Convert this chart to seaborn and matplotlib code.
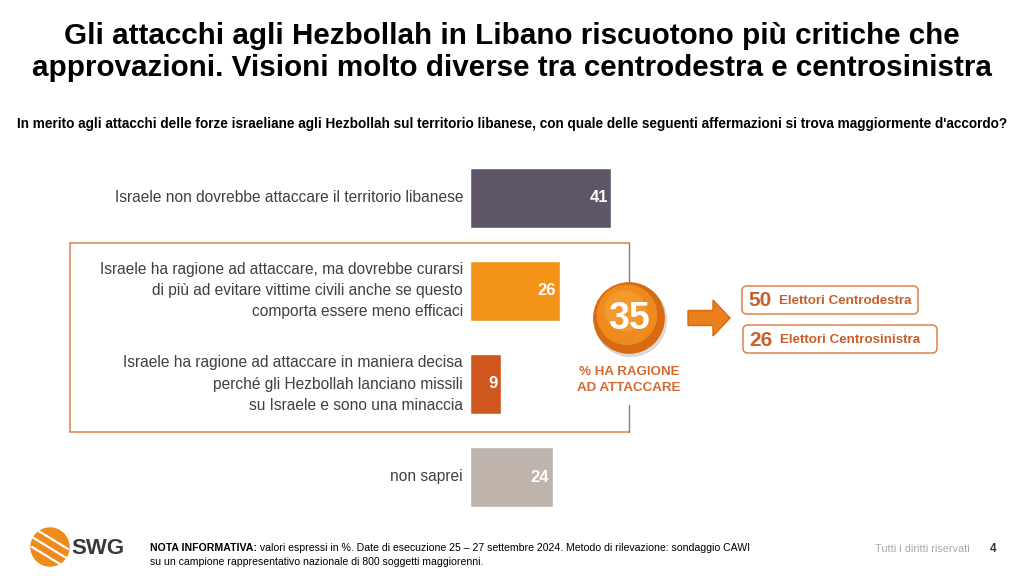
import matplotlib
matplotlib.use("Agg")
import matplotlib.pyplot as plt
import seaborn as sns
import pandas as pd
from matplotlib.patches import FancyBboxPatch, Circle, FancyArrow
from matplotlib.lines import Line2D

# ---- data ----
categories = [
    "Israele non dovrebbe attaccare il territorio libanese",
    "Israele ha ragione ad attaccare, ma dovrebbe curarsi\ndi più ad evitare vittime civili anche se questo\ncomporta essere meno efficaci",
    "Israele ha ragione ad attaccare in maniera decisa\nperché gli Hezbollah lanciano missili\nsu Israele e sono una minaccia",
    "non saprei",
]
values = [41, 26, 9, 24]
bar_colors = ["#5E5568", "#F39318", "#CF561C", "#BFB4AC"]
highlight_total = 35
highlight_label = "% HA RAGIONE\nAD ATTACCARE"
group_labels = ["Elettori Centrodestra", "Elettori Centrosinistra"]
group_values = [50, 26]

title = ("Gli attacchi agli Hezbollah in Libano riscuotono più critiche che\n"
         "approvazioni. Visioni molto diverse tra centrodestra e centrosinistra")
subtitle = ("In merito agli attacchi delle forze israeliane agli Hezbollah sul territorio libanese, "
            "con quale delle seguenti affermazioni si trova maggiormente d'accordo?")
note_bold = "NOTA INFORMATIVA:"
note_rest = (" valori espressi in %. Date di esecuzione 25 – 27 settembre 2024. Metodo di rilevazione: sondaggio CAWI")
note_line2 = "su un campione rappresentativo nazionale di 800 soggetti maggiorenni."

sns.set_theme(style="white")
plt.rcParams['font.family'] = ['Liberation Sans', 'DejaVu Sans']

W, H = 1024, 576
fig = plt.figure(figsize=(W / 100, H / 100), dpi=100)
fig.patch.set_facecolor("white")


def fx(x):
    return x / W


def fy(y):
    return 1 - y / H


# ---- main bar axes ----
ax_left, ax_right = 470, 670
ax_top, ax_bot = 151.5, 523.5
ax = fig.add_axes([fx(ax_left), fy(ax_bot), (ax_right - ax_left) / W, (ax_bot - ax_top) / H])
df = pd.DataFrame({"cat": categories, "val": values})
sns.barplot(data=df, x="val", y="cat", hue="cat", palette=bar_colors, legend=False,
            orient="h", width=0.645, ax=ax, saturation=1)
ax.set_xlim(0, (ax_right - ax_left) / 3.45)
ax.set_ylim(3.5, -0.5)
ax.axis("off")

for i, (c, v) in enumerate(zip(categories, values)):
    ax.text(v - 1.0, i, str(v), ha="right", va="center", color="white",
            fontsize=12, fontweight="bold")
    ax.text(-2.0, i, c, ha="right", va="center", color="#404040", fontsize=11.2,
            linespacing=1.5, clip_on=False)

# ---- orange grouping box ----
box_c = "#E08A5A"
fig.add_artist(Line2D([fx(70), fx(629)], [fy(243), fy(243)], color=box_c, lw=1.2))
fig.add_artist(Line2D([fx(70), fx(629)], [fy(432), fy(432)], color=box_c, lw=1.2))
fig.add_artist(Line2D([fx(70), fx(70)], [fy(243), fy(432)], color=box_c, lw=1.2))
fig.add_artist(Line2D([fx(629), fx(629)], [fy(243), fy(283)], color="#7F7F7F", lw=1.0))
fig.add_artist(Line2D([fx(629), fx(629)], [fy(405), fy(432)], color="#7F7F7F", lw=1.0))

# ---- circle with total ----
circ_ax = fig.add_axes([fx(589), fy(358), 80 / W, 80 / H])
circ_ax.set_xlim(-1, 1)
circ_ax.set_ylim(-1, 1)
circ_ax.set_aspect("equal")
circ_ax.axis("off")
circ_ax.add_patch(Circle((0.04, -0.06), 0.9, color="#C8C8C8", alpha=0.6))
circ_ax.add_patch(Circle((0, 0), 0.88, color="#D86A12"))
circ_ax.add_patch(Circle((-0.05, 0.08), 0.74, color="#EE8A1E"))
circ_ax.add_patch(Circle((-0.1, 0.18), 0.5, color="#F39A2E"))
circ_ax.text(0, -0.02, str(highlight_total), ha="center", va="center", color="white",
             fontsize=27, fontweight="bold")
fig.text(fx(629), fy(380), highlight_label, ha="center", va="center", color="#D4692F",
         fontsize=9.6, fontweight="bold", linespacing=1.45)

# ---- arrow ----
arr_ax = fig.add_axes([0, 0, 1, 1], facecolor="none")
arr_ax.set_xlim(0, W)
arr_ax.set_ylim(H, 0)
arr_ax.axis("off")
arr_ax.add_patch(FancyArrow(688, 318, 42, 0, width=15, head_width=36, head_length=17,
                            length_includes_head=True, color="#EA7F1C", ec="#D86A12"))

# ---- group boxes ----
boxes = [(742, 286, 176, 28), (743, 325, 194, 28)]
for (bx, by, bw, bh), lab, val in zip(boxes, group_labels, group_values):
    arr_ax.add_patch(FancyBboxPatch((bx, by), bw, bh, boxstyle="round,pad=0,rounding_size=5",
                                    fc="white", ec="#E08A5A", lw=1.2))
    arr_ax.text(bx + 6, by + bh / 2 + 1, str(val), ha="left", va="center", color="#C6602A",
                fontsize=15, fontweight="bold")
    arr_ax.text(bx + 37, by + bh / 2 + 1, lab, ha="left", va="center", color="#C6602A",
                fontsize=9.6, fontweight="bold")

# ---- titles ----
fig.text(0.5, fy(52), title, ha="center", va="center", fontsize=21.3, fontweight="bold",
         color="black", linespacing=1.2)
fig.text(0.5, fy(124), subtitle, ha="center", va="center", fontsize=9.8,
         fontweight="bold", color="black")

# ---- footer ----
logo_ax = fig.add_axes([fx(30), fy(567), 40 / W, 40 / H])
logo_ax.set_xlim(-1, 1)
logo_ax.set_ylim(-1, 1)
logo_ax.set_aspect("equal")
logo_ax.axis("off")
logo_ax.add_patch(Circle((0, 0), 0.95, color="#F08A1C"))
for off in (-0.55, -0.05, 0.45):
    logo_ax.plot([-0.9, 0.9], [off + 0.55, off - 0.55], color="white", lw=1.6)
fig.text(fx(71), fy(548), "SWG", ha="left", va="center", fontsize=16, fontweight="bold",
         color="#3A3A3A")

t = fig.text(fx(150), fy(548), note_bold, ha="left", va="center", fontsize=7.6,
             fontweight="bold", color="black")
fig.canvas.draw()
bb = t.get_window_extent()
fig.text(bb.x1 / W, fy(548), note_rest, ha="left", va="center", fontsize=7.6, color="black")
fig.text(fx(150), fy(562), note_line2, ha="left", va="center", fontsize=7.6, color="black")
fig.text(fx(970), fy(549), "Tutti i diritti riservati", ha="right", va="center", fontsize=7.8,
         color="#A8A8A8")
fig.text(fx(993), fy(549), "4", ha="center", va="center", fontsize=8.5, fontweight="bold",
         color="#333333")

fig.savefig("out.png", dpi=100)
